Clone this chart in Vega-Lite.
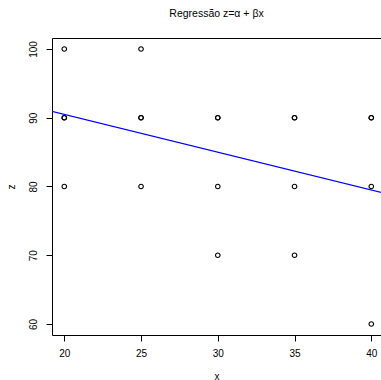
{
  "$schema": "https://vega.github.io/schema/vega-lite/v6.json",
  "autosize": "none",
  "padding": {"left": 52, "top": 38, "right": 0, "bottom": 45},
  "width": 329,
  "height": 297,
  "background": "white",
  "title": {
    "text": "Regressão z=α + βx",
    "font": "Liberation Sans",
    "fontSize": 10.5,
    "fontWeight": "normal",
    "color": "black",
    "anchor": "middle",
    "offset": 19
  },
  "config": {
    "view": {"stroke": "black", "strokeWidth": 1},
    "axis": {
      "grid": false,
      "domain": false,
      "tickColor": "black",
      "tickSize": 6,
      "tickWidth": 1,
      "labelFont": "Liberation Sans",
      "labelFontSize": 10,
      "labelColor": "black",
      "titleFont": "Liberation Sans",
      "titleFontSize": 10,
      "titleFontWeight": "normal",
      "titleColor": "black"
    }
  },
  "data": {
    "values": [
      {"x": 20, "z": 100}, {"x": 20, "z": 90}, {"x": 20, "z": 90}, {"x": 20, "z": 80},
      {"x": 25, "z": 100}, {"x": 25, "z": 90}, {"x": 25, "z": 90}, {"x": 25, "z": 80},
      {"x": 30, "z": 90}, {"x": 30, "z": 90}, {"x": 30, "z": 80}, {"x": 30, "z": 70},
      {"x": 35, "z": 90}, {"x": 35, "z": 90}, {"x": 35, "z": 80}, {"x": 35, "z": 70},
      {"x": 40, "z": 90}, {"x": 40, "z": 90}, {"x": 40, "z": 80}, {"x": 40, "z": 60}
    ]
  },
  "layer": [
    {
      "mark": {"type": "point", "shape": "circle", "filled": false, "stroke": "black", "strokeWidth": 1.1, "size": 21, "opacity": 1},
      "encoding": {
        "x": {
          "field": "x", "type": "quantitative",
          "scale": {"domain": [19.2, 40.633], "nice": false, "zero": false},
          "axis": {"values": [20, 25, 30, 35, 40], "title": "x", "labelPadding": 7, "titlePadding": 13}
        },
        "y": {
          "field": "z", "type": "quantitative",
          "scale": {"domain": [58.4, 101.6], "nice": false, "zero": false},
          "axis": {"values": [60, 70, 80, 90, 100], "title": "z", "labelAngle": -90, "labelAlign": "center", "labelBaseline": "bottom", "labelPadding": 8, "titlePadding": 12}
        }
      }
    },
    {
      "transform": [{"regression": "z", "on": "x", "extent": [19, 41]}],
      "mark": {"type": "line", "color": "#0000FF", "strokeWidth": 1.2, "clip": true},
      "encoding": {
        "x": {"field": "x", "type": "quantitative"},
        "y": {"field": "z", "type": "quantitative"}
      }
    }
  ]
}
